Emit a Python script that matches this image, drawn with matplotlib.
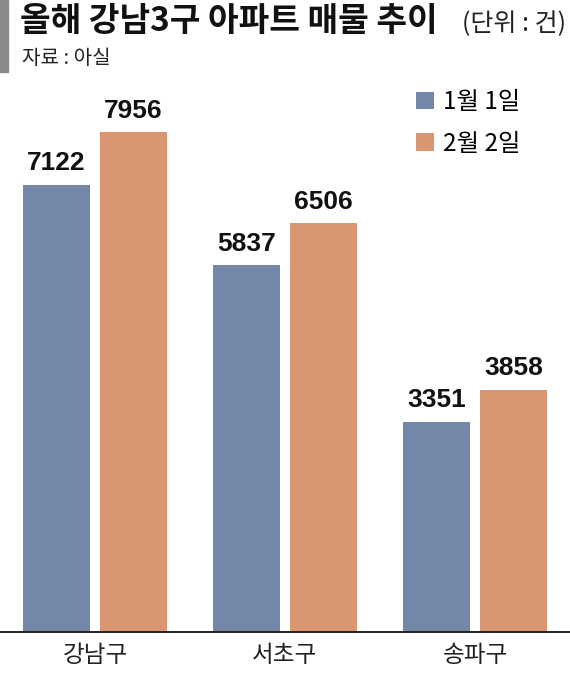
import matplotlib.pyplot as plt
from matplotlib.patches import Rectangle
import numpy as np

plt.rcParams['font.family'] = ['Noto Sans CJK KR', 'DejaVu Sans']

districts = ['강남구', '서초구', '송파구']
series_names = ['1월 1일', '2월 2일']
jan_values = [7122, 5837, 3351]
feb_values = [7956, 6506, 3858]

blue = '#7388a8'
orange = '#da9673'

W, H = 570, 675
fig = plt.figure(figsize=(W / 100, H / 100), dpi=100)

# grey marker bar at the top-left corner
fig.patches.append(Rectangle((0, 1 - 72 / H), 8 / W, 72 / H, transform=fig.transFigure,
                             color='#8a8a8a', zorder=0))

fig.text(20 / W, 1 - 22 / H, '올해 강남3구 아파트 매물 추이', fontsize=24, fontweight='bold',
         va='center', ha='left', color='#111111')
fig.text(566 / W, 1 - 24 / H, '(단위 : 건)', fontsize=18, va='center', ha='right', color='#222222')
fig.text(22 / W, 1 - 58 / H, '자료 : 아실', fontsize=14.5, va='center', ha='left', color='#222222')

ax = fig.add_axes([0, 1 - 632 / H, 1, 552 / H])
x = np.arange(len(districts))
width = 0.353
offset = 0.203

b1 = ax.bar(x - offset, jan_values, width, color=blue, label=series_names[0])
b2 = ax.bar(x + offset, feb_values, width, color=orange, label=series_names[1])

for bars in (b1, b2):
    for rect in bars:
        ax.annotate(f'{int(rect.get_height())}',
                    (rect.get_x() + rect.get_width() / 2, rect.get_height()),
                    xytext=(0, 7), textcoords='offset points', ha='center', va='bottom',
                    fontsize=19, fontweight='bold', family=['Liberation Sans', 'DejaVu Sans'],
                    color='#111111')

ax.set_xlim(-0.5, 2.5)
ax.set_ylim(0, 8790)
ax.set_yticks([])
ax.set_xticks(x)
ax.set_xticklabels(districts, fontsize=17, color='#222222')
ax.tick_params(axis='x', length=0, pad=9)
for s in ['top', 'left', 'right']:
    ax.spines[s].set_visible(False)
ax.spines['bottom'].set_linewidth(1.4)
ax.spines['bottom'].set_color('#222222')

ax.legend(loc='upper left', bbox_to_anchor=(416 / W, 1 - 89 / H), bbox_transform=fig.transFigure,
          frameon=False, fontsize=17.5, borderpad=0, borderaxespad=0,
          handlelength=0.75, handleheight=0.75, handletextpad=0.35, labelspacing=0.65)

fig.savefig('out.png', dpi=100)
